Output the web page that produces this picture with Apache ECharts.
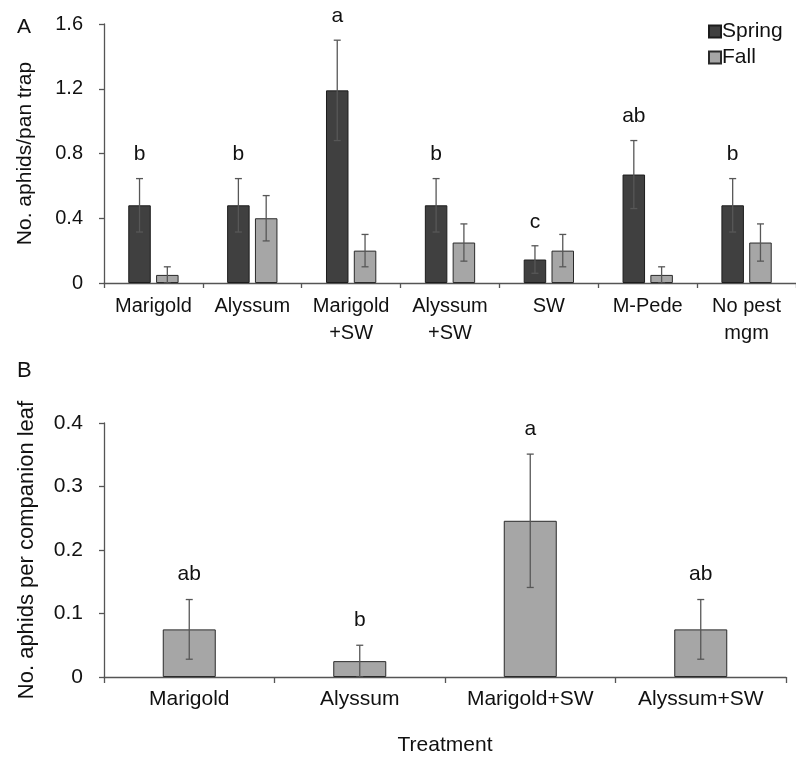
<!DOCTYPE html>
<html>
<head>
<meta charset="utf-8">
<script src="https://cdn.jsdelivr.net/npm/echarts@6/dist/echarts.min.js"></script>
<style>
  html, body { margin: 0; padding: 0; background: #fff; }
  #chart { width: 796px; height: 758px; }
</style>
</head>
<body>
<div id="chart"></div>
<script>
// panel A: aphids per pan trap
var catsA = ['Marigold', 'Alyssum', 'Marigold\n+SW', 'Alyssum\n+SW', 'SW', 'M-Pede', 'No pest\nmgm'];
var springA = [0.48, 0.48, 1.19, 0.48, 0.145, 0.67, 0.48];
var springErrA = [0.165, 0.165, 0.31, 0.165, 0.085, 0.21, 0.165];
var fallA = [0.05, 0.40, 0.20, 0.25, 0.20, 0.05, 0.25];
var fallErrA = [0.05, 0.14, 0.10, 0.115, 0.10, 0.05, 0.115];
var lettersA = ['b', 'b', 'a', 'b', 'c', 'ab', 'b'];
var ticksA = ['0', '0.4', '0.8', '1.2', '1.6'];

// panel B: aphids per companion leaf
var catsB = ['Marigold', 'Alyssum', 'Marigold+SW', 'Alyssum+SW'];
var leafB = [0.075, 0.025, 0.246, 0.075];
var leafErrB = [0.047, 0.025, 0.105, 0.047];
var lettersB = ['ab', 'b', 'a', 'ab'];
var ticksB = ['0', '0.1', '0.2', '0.3', '0.4'];

var FONT = 'Liberation Sans';
var barW = 22.5, barGapPx = 5.3;

// error bar + letter renderer
function errRenderer(vals, errs, letters, offset, capW, letterGap, fs) {
  return function (params, api) {
    var i = params.dataIndex;
    var v = vals[i], e = errs[i];
    var top = api.coord([i, v + e]);
    var bot = api.coord([i, Math.max(0, v - e)]);
    var x = top[0] + offset;
    var st = { stroke: '#575757', lineWidth: 1.3 };
    var kids = [
      { type: 'line', shape: { x1: x, y1: top[1], x2: x, y2: bot[1] }, style: st },
      { type: 'line', shape: { x1: x - capW / 2, y1: top[1], x2: x + capW / 2, y2: top[1] }, style: st },
      { type: 'line', shape: { x1: x - capW / 2, y1: bot[1], x2: x + capW / 2, y2: bot[1] }, style: st }
    ];
    if (letters) {
      kids.push({
        type: 'text',
        style: {
          text: letters[i], x: x, y: top[1] - letterGap,
          align: 'center', verticalAlign: 'middle',
          fontSize: fs, fontFamily: FONT, fill: '#111'
        }
      });
    }
    return { type: 'group', children: kids };
  };
}

var chart = echarts.init(document.getElementById('chart'), null, { renderer: 'canvas' });

var axisLine = { show: true, lineStyle: { color: '#555', width: 1.3 } };
var axisTick = { show: true, length: 5, lineStyle: { color: '#555', width: 1.3 } };

var option = {
  animation: false,
  backgroundColor: '#fff',
  title: [
    { text: 'A', left: 12, top: 12, textStyle: { fontFamily: FONT, fontWeight: 'normal', fontSize: 21, color: '#111' } },
    { text: 'B', left: 12, top: 355, textStyle: { fontFamily: FONT, fontWeight: 'normal', fontSize: 22, color: '#111' } }
  ],
  legend: {
    data: ['Spring', 'Fall'],
    orient: 'vertical',
    left: 703, top: 16,
    itemWidth: 12, itemHeight: 12, itemGap: 5,
    icon: 'rect',
    textStyle: { fontFamily: FONT, fontSize: 21, color: '#111', padding: [0, 0, 0, -4] }
  },
  grid: [
    { left: 104, top: 24, right: -2, height: 259 },
    { left: 104, top: 423, right: 10, height: 254 }
  ],
  xAxis: [
    {
      type: 'category', gridIndex: 0, data: catsA,
      axisLine: axisLine, axisTick: axisTick,
      axisLabel: { fontFamily: FONT, fontSize: 20, color: '#111', margin: 10, lineHeight: 27, interval: 0 }
    },
    {
      type: 'category', gridIndex: 1, data: catsB,
      name: 'Treatment', nameLocation: 'middle', nameGap: 58,
      nameTextStyle: { fontFamily: FONT, fontSize: 21, color: '#111' },
      axisLine: axisLine, axisTick: { show: true, length: 6, lineStyle: { color: '#555', width: 1.3 } },
      axisLabel: { fontFamily: FONT, fontSize: 21, color: '#111', margin: 12, interval: 0 }
    }
  ],
  yAxis: [
    {
      type: 'value', gridIndex: 0, min: 0, max: 1.6, interval: 0.4,
      name: 'No. aphids/pan trap', nameLocation: 'middle', nameGap: 68, nameRotate: 90,
      nameTextStyle: { fontFamily: FONT, fontSize: 21, color: '#111' },
      axisLine: axisLine, axisTick: axisTick, splitLine: { show: false },
      axisLabel: {
        fontFamily: FONT, fontSize: 20, color: '#111', margin: 21,
        formatter: function (v) { return ticksA[Math.round(v / 0.4)]; }
      }
    },
    {
      type: 'value', gridIndex: 1, min: 0, max: 0.4, interval: 0.1,
      name: 'No. aphids per companion leaf', nameLocation: 'middle', nameGap: 66, nameRotate: 90,
      nameTextStyle: { fontFamily: FONT, fontSize: 22, color: '#111' },
      axisLine: axisLine, axisTick: axisTick, splitLine: { show: false },
      axisLabel: {
        fontFamily: FONT, fontSize: 21, color: '#111', margin: 21,
        formatter: function (v) { return ticksB[Math.round(v / 0.1)]; }
      }
    }
  ],
  series: [
    {
      name: 'Spring', type: 'bar', xAxisIndex: 0, yAxisIndex: 0, data: springA,
      barWidth: barW, barGap: (barGapPx / barW * 100).toFixed(1) + '%',
      itemStyle: { color: '#404040', borderColor: '#1c1c1c', borderWidth: 1 }
    },
    {
      name: 'Fall', type: 'bar', xAxisIndex: 0, yAxisIndex: 0, data: fallA,
      barWidth: barW,
      itemStyle: { color: '#a6a6a6', borderColor: '#2a2a2a', borderWidth: 1 }
    },
    {
      type: 'custom', xAxisIndex: 0, yAxisIndex: 0, z: 5, clip: false,
      renderItem: errRenderer(springA, springErrA, lettersA, -(barW + barGapPx) / 2, 7, 24, 21),
      data: springA.map(function (v, i) { return [i, v]; })
    },
    {
      type: 'custom', xAxisIndex: 0, yAxisIndex: 0, z: 5, clip: false,
      renderItem: errRenderer(fallA, fallErrA, null, (barW + barGapPx) / 2, 7, 0, 21),
      data: fallA.map(function (v, i) { return [i, v]; })
    },
    {
      name: 'Leaf', type: 'bar', xAxisIndex: 1, yAxisIndex: 1, data: leafB,
      barWidth: 53,
      itemStyle: { color: '#a6a6a6', borderColor: '#2a2a2a', borderWidth: 1 }
    },
    {
      type: 'custom', xAxisIndex: 1, yAxisIndex: 1, z: 5, clip: false,
      renderItem: errRenderer(leafB, leafErrB, lettersB, 0, 7, 25, 21),
      data: leafB.map(function (v, i) { return [i, v]; })
    }
  ]
};

chart.setOption(option);
</script>
</body>
</html>
